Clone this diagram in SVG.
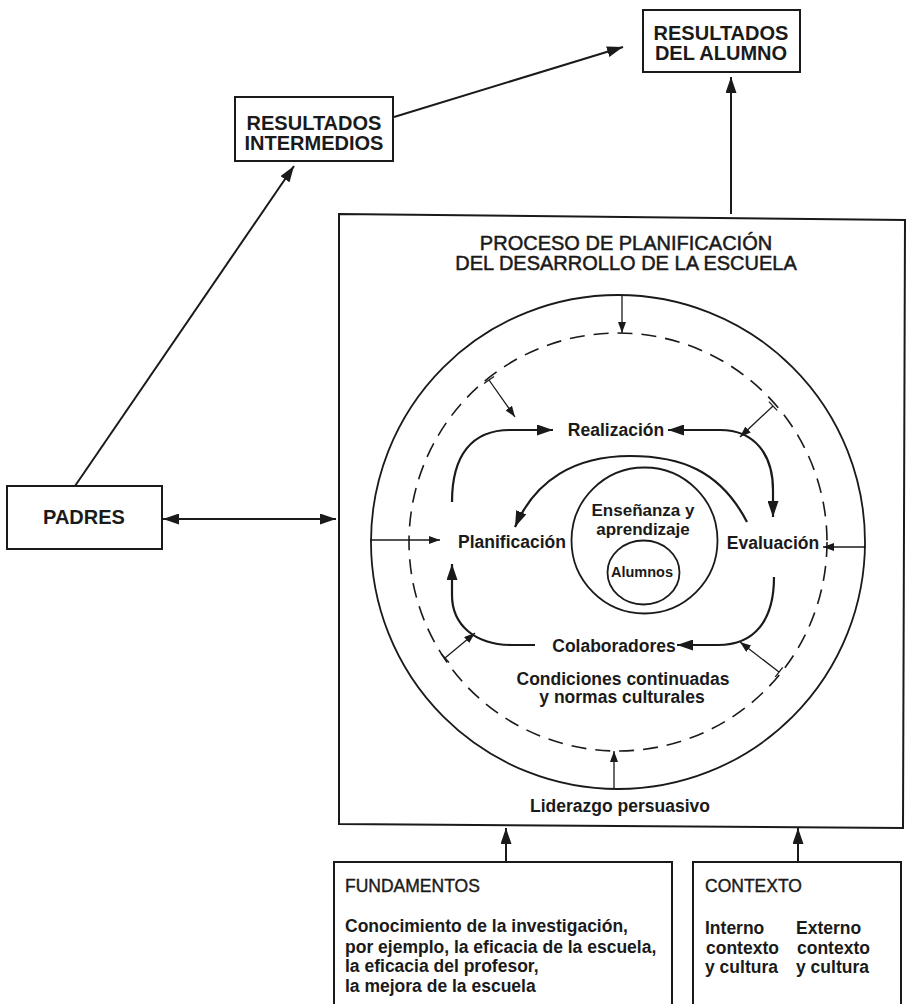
<svg xmlns="http://www.w3.org/2000/svg" width="906" height="1004" viewBox="0 0 906 1004">
<style>
text{font-family:"Liberation Sans",Arial,Helvetica,sans-serif;fill:#1a1a1a}
.box{fill:none;stroke:#1a1a1a;stroke-width:2}
.lbl{font-size:20px;font-weight:bold;text-anchor:middle}
.ttl{font-size:20px;text-anchor:middle;stroke:#1a1a1a;stroke-width:0.5}
.in{font-size:17.5px;font-weight:bold;text-anchor:middle}
.hd{font-size:17.5px;stroke:#1a1a1a;stroke-width:0.4}
.ds{font-size:17.5px;font-weight:bold}
.main{fill:none;stroke:#1a1a1a;stroke-width:2}
.cyc{fill:none;stroke:#1a1a1a;stroke-width:2.2}
.thin{fill:none;stroke:#1a1a1a;stroke-width:1.3}
.circ{fill:none;stroke:#1a1a1a;stroke-width:1.8}
.dash{fill:none;stroke:#1a1a1a;stroke-width:1.6;stroke-dasharray:15 9}
</style>
<defs>
<marker id="ah" markerUnits="userSpaceOnUse" markerWidth="17" markerHeight="11" refX="16" refY="5.5" orient="auto-start-reverse">
<path d="M0,0 L16,5.5 L0,11 z" fill="#1a1a1a"/>
</marker>
<marker id="as" markerUnits="userSpaceOnUse" markerWidth="12" markerHeight="8" refX="11" refY="4" orient="auto">
<path d="M0,0 L11,4 L0,8 z" fill="#1a1a1a"/>
</marker>
</defs>
<rect width="906" height="1004" fill="#ffffff"/>

<g id="resultados-alumno">
<rect class="box" x="643" y="10" width="157" height="62"/>
<text class="lbl" x="721" y="40">RESULTADOS</text>
<text class="lbl" x="721" y="60">DEL ALUMNO</text>
</g>

<g id="resultados-intermedios">
<rect class="box" x="235" y="97" width="158" height="64"/>
<text class="lbl" x="314" y="130">RESULTADOS</text>
<text class="lbl" x="314" y="150">INTERMEDIOS</text>
</g>

<g id="padres">
<rect class="box" x="7" y="486" width="155" height="63"/>
<text class="lbl" x="84" y="524">PADRES</text>
</g>

<g id="proceso">
<polygon class="box" points="339,214 905,220 903,828 339,824"/>
<text class="ttl" x="626" y="250">PROCESO DE PLANIFICACIÓN</text>
<text class="ttl" x="626" y="270">DEL DESARROLLO DE LA ESCUELA</text>
<circle class="circ" cx="618" cy="542" r="247"/>
<circle class="dash" cx="618" cy="542" r="209"/>
</g>

<g id="ensenanza">
<circle class="circ" cx="644.5" cy="540.5" r="73"/>
<text class="in" x="643" y="516" style="font-size:17px">Enseñanza y</text>
<text class="in" x="643" y="535" style="font-size:17px">aprendizaje</text>
</g>

<g id="alumnos">
<ellipse class="circ" cx="643.5" cy="572.5" rx="36" ry="32"/>
<text class="in" x="642" y="577" style="font-size:14.5px">Alumnos</text>
</g>

<g id="realizacion"><text class="in" x="616" y="436">Realización</text></g>
<g id="planificacion"><text class="in" x="512" y="548">Planificación</text></g>
<g id="evaluacion"><text class="in" x="773" y="549">Evaluación</text></g>
<g id="colaboradores"><text class="in" x="614" y="652">Colaboradores</text></g>
<g id="condiciones">
<text class="in" x="623" y="685">Condiciones continuadas</text>
<text class="in" x="622" y="703">y normas culturales</text>
</g>
<g id="liderazgo"><text class="in" x="620" y="812">Liderazgo persuasivo</text></g>

<g id="fundamentos">
<rect class="box" x="334" y="862" width="338" height="160"/>
<text class="hd" x="345" y="892">FUNDAMENTOS</text>
<text class="ds" x="345" y="932">Conocimiento de la investigación,</text>
<text class="ds" x="345" y="953">por ejemplo, la eficacia de la escuela,</text>
<text class="ds" x="345" y="972">la eficacia del profesor,</text>
<text class="ds" x="345" y="992">la mejora de la escuela</text>
</g>

<g id="contexto">
<rect class="box" x="693" y="862" width="208" height="160"/>
<text class="hd" x="705" y="892">CONTEXTO</text>
<text class="ds" x="705" y="934">Interno</text>
<text class="ds" x="706" y="954">contexto</text>
<text class="ds" x="705" y="973">y cultura</text>
<text class="ds" x="796" y="934">Externo</text>
<text class="ds" x="797" y="954">contexto</text>
<text class="ds" x="796" y="973">y cultura</text>
</g>

<g id="connectors">
<path class="main" d="M394,117 L623,47" marker-end="url(#ah)"/>
<path class="main" d="M731,214 L731,77" marker-end="url(#ah)"/>
<path class="main" d="M75,486 L294,166" marker-end="url(#ah)"/>
<path class="main" d="M163,519 L336,519" marker-start="url(#ah)" marker-end="url(#ah)"/>
<path class="main" d="M506,862 L506,828" marker-end="url(#ah)"/>
<path class="main" d="M798,862 L798,828" marker-end="url(#ah)"/>

<path class="cyc" d="M452,502 C452,455 472,430 510,430 L553,430" marker-end="url(#ah)"/>
<path class="cyc" d="M668,430 L720,430 C755,430 773,455 773,490 L773,517" marker-start="url(#ah)" marker-end="url(#ah)"/>
<path class="cyc" d="M747,522 C720,470 680,456 630,456 C575,456 535,480 515,527" marker-end="url(#ah)"/>
<path class="cyc" d="M535,645 L512,645 C475,645 452,625 452,595 L452,564" marker-end="url(#ah)"/>
<path class="cyc" d="M774,577 C774,620 755,645 718,645 L677,645" marker-end="url(#ah)"/>

<path class="thin" d="M622,295 L622,333" marker-end="url(#as)"/>
<path class="thin" d="M614,789 L614,751" marker-end="url(#as)"/>
<path class="thin" d="M370,540 L440,540" marker-end="url(#as)"/>
<path class="thin" d="M866,547 L823,547" marker-end="url(#as)"/>
<path class="thin" d="M489,380 L515,417" marker-end="url(#as)"/>
<path class="thin" d="M484,383.5 L494,376.5"/>
<path class="thin" d="M773,406 L740,437" marker-end="url(#as)"/>
<path class="thin" d="M768.9,401.6 L777.1,410.4"/>
<path class="thin" d="M445,658 L475,633" marker-end="url(#as)"/>
<path class="thin" d="M441,653.5 L449,662.5"/>
<path class="thin" d="M779,672 L740,642" marker-end="url(#as)"/>
<path class="thin" d="M775.3,676.8 L782.7,667.3"/>
</g>
</svg>
